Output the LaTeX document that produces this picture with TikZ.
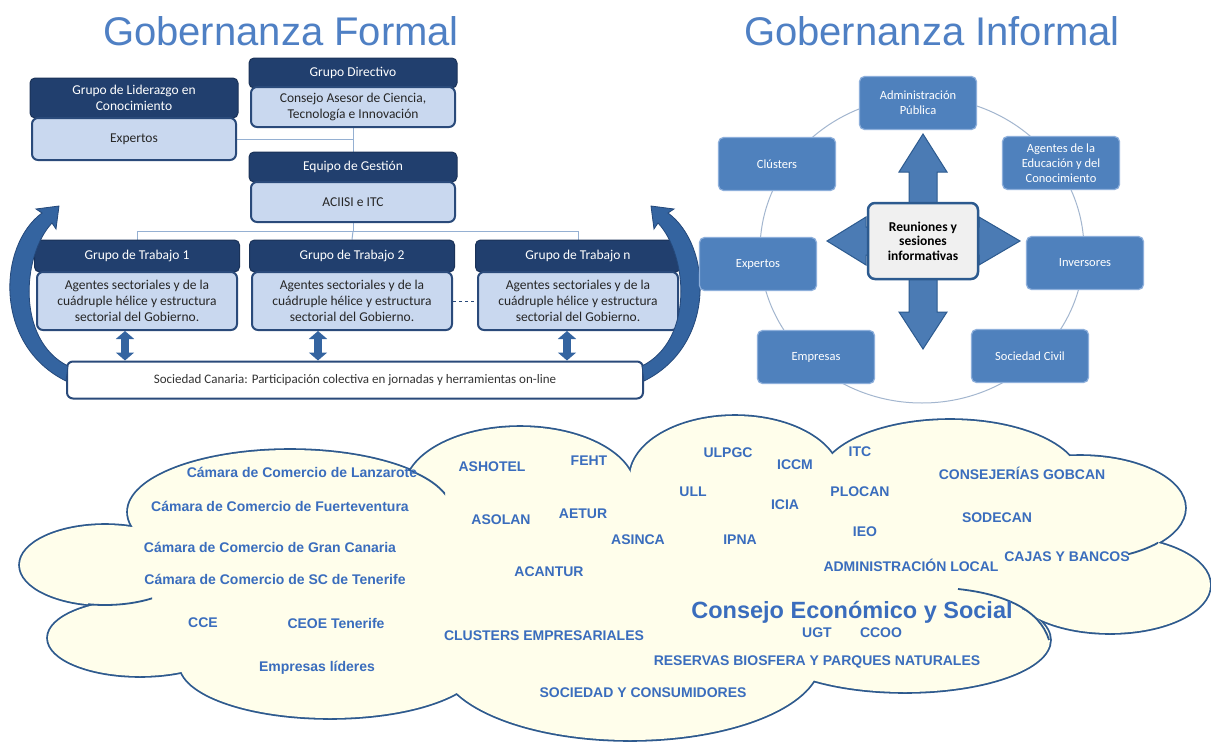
\documentclass[tikz,border=0pt]{standalone}
\usepackage{fontspec}
\setmainfont{Carlito}
\newfontfamily\arialfont{Liberation Sans}
\usetikzlibrary{positioning,arrows.meta,calc,backgrounds}
\definecolor{NavyHead}{HTML}{213F6E}
\definecolor{BodyFill}{HTML}{C9D8EF}
\definecolor{BodyEdge}{HTML}{2A4A7A}
\definecolor{LinkBlue}{HTML}{95B0D2}
\definecolor{ArrowBlue}{HTML}{3464A0}
\definecolor{ArrowEdge}{HTML}{24487A}
\definecolor{InfBlue}{HTML}{4F81BD}
\definecolor{InfEdge}{HTML}{8DAFDB}
\definecolor{CrossEdge}{HTML}{2C5A8F}
\definecolor{RingGray}{HTML}{A3B6CF}
\definecolor{CloudFill}{HTML}{FFFEEB}
\definecolor{CloudEdge}{HTML}{2E5A8E}
\definecolor{CloudText}{HTML}{3A6DBD}
\definecolor{TitleBlue}{HTML}{4F80C4}
\definecolor{GrayText}{HTML}{333333}
\tikzset{
  every node/.style = {font=\fontsize{13.5}{16}\selectfont},
  title/.style      = {font=\arialfont\fontsize{40}{44}\selectfont,
                       text=TitleBlue, inner sep=0pt},
  hdr/.style        = {rectangle, rounded corners=5pt, fill=NavyHead,
                       draw=NavyHead!80!black, line width=1pt, text=white,
                       minimum width=208pt, align=center, inner sep=2pt},
  bdy/.style        = {rectangle, rounded corners=6pt, fill=BodyFill,
                       draw=BodyEdge, line width=2pt, text=black!85,
                       minimum width=204pt, align=center, inner sep=2pt},
  socbox/.style     = {bdy, fill=white, text=GrayText,
                       font=\fontsize{13}{15}\selectfont},
  link/.style       = {draw=LinkBlue, line width=1pt},
  dblarrow/.style   = {<->, >={Triangle[width=18pt, length=8pt]},
                       line width=7.5pt, draw=ArrowBlue},
  sidearrow/.style  = {fill=ArrowBlue, draw=ArrowEdge, line width=0.8pt},
  ibox/.style       = {rectangle, rounded corners=5pt, fill=InfBlue,
                       draw=InfEdge, line width=1.2pt, text=white,
                       minimum width=117pt, minimum height=53pt,
                       align=center, inner sep=2pt,
                       font=\fontsize{12.5}{15}\selectfont},
  hubbox/.style     = {ibox, fill=black!6, draw=CrossEdge, line width=2.5pt,
                       rounded corners=7pt, text=black,
                       minimum width=110pt, minimum height=76pt,
                       font=\bfseries\fontsize{13.5}{14.5}\selectfont},
  cross/.style      = {fill=InfBlue!95!black, draw=CrossEdge, line width=1pt},
  ring/.style       = {draw=RingGray, line width=1pt},
  cloudline/.style  = {draw=CloudEdge, line width=3.6pt},
  cloudinner/.style = {draw=CloudEdge, line width=1.8pt},
  cloudfill/.style  = {fill=CloudFill},
  org/.style        = {font=\arialfont\bfseries\fontsize{14}{16}\selectfont,
                       text=CloudText, inner sep=1pt},
  orgbig/.style     = {org, font=\arialfont\bfseries\fontsize{23.5}{26}\selectfont},
}
% cloud lobes: centre x / centre y / x radius / y radius
\def\Lobes{105/565/85/40, 290/512/162/62, 520/490/115/63, 735/478/105/62,
  950/480/130/60, 1080/508/105/52, 1110/585/100/48, 905/640/145/52,
  630/660/190/80, 330/664/150/54, 140/638/92/38}

\begin{document}
\begin{tikzpicture}[x=1pt, y=-1pt]
\useasboundingbox (0,0) rectangle (1211,742);
\begin{scope}[on background layer]
  \fill[white] (0,0) rectangle (1211,742);
\end{scope}

% =========================================================================
% Titles
% =========================================================================
\node[title, anchor=base] (tForm) at (281,45) {Gobernanza Formal};
\node[title, anchor=base] (tInf)  at (932,45) {Gobernanza Informal};

% =========================================================================
% Formal governance
% =========================================================================
\node[hdr, minimum height=30pt] (dirH) at (353,73)  {Grupo Directivo};
\node[bdy, minimum height=40pt] (dirB) at (353,107)
  {Consejo Asesor de Ciencia,\\Tecnología e Innovación};

\node[hdr, minimum height=40pt] (lidH) at (134,98)
  {Grupo de Liderazgo en\\Conocimiento};
\node[bdy, minimum height=42pt] (lidB) at (134,139) {Expertos};

\node[hdr, minimum height=30pt] (gesH) at (353,167) {Equipo de Gestión};
\node[bdy, minimum height=40pt] (gesB) at (353,202) {ACIISI e ITC};

% working groups
\foreach \n/\x in {1/137, 2/352, n/578} {
  \node[hdr, minimum width=205pt, minimum height=32pt] (gtH\n) at (\x,256)
    {Grupo de Trabajo \n};
  \node[bdy, minimum width=200pt, minimum height=58pt] (gtB\n) at (\x,301)
    {Agentes sectoriales y de la\\cuádruple hélice y estructura\\sectorial del Gobierno.};
}

\node[socbox, minimum width=576pt, minimum height=37pt] (socB) at (355,380)
  {Sociedad Canaria: Participación colectiva en jornadas y herramientas on-line};

% --- connectors (behind the boxes) ----------------------------------------
\begin{scope}[on background layer]
  \draw[link] (lidB.east) -- (lidB.east -| dirB.south);
  \draw[link] (dirB.south) -- (gesH.north);
  \coordinate (bus) at ($(gesB.south)!0.5!(gesB.south |- gtH2.north)$);
  \draw[link] (gesB.south) -- (bus);
  \draw[link] (gtH1.north) |- (bus) -| (gtHn.north);
  \draw[link] (bus) -- (gtH2.north);
\end{scope}
\draw[link, dashed, draw=BodyEdge] (gtB2.east) -- (gtBn.west);

% --- two-way arrows to the society box -----------------------------------
\foreach \g/\dx in {gtB1/-12, gtB2/-34, gtBn/-11} {
  \coordinate (dtop) at ([xshift=\dx pt]\g.south);
  \draw[dblarrow] (dtop) -- (dtop |- socB.north);
}

% --- curved feedback arrows ----------------------------------------------
\filldraw[sidearrow] (68,366) .. controls (16,340) and (22,255) .. (52,223)
  -- (56,229) -- (59,206) -- (36,209) -- (42,213)
  .. controls (-2,245) and (-7,345) .. (66,381) -- cycle;
\begin{scope}[xshift=710pt, xscale=-1]
  \filldraw[sidearrow] (68,366) .. controls (16,340) and (22,255) .. (52,223)
    -- (56,229) -- (59,206) -- (36,209) -- (42,213)
    .. controls (-2,245) and (-7,345) .. (66,381) -- cycle;
\end{scope}

% =========================================================================
% Informal governance
% =========================================================================
\coordinate (hub) at (923,241);
\draw[ring] (922,250) ellipse [x radius=162, y radius=153];

\begin{scope}[shift={(hub)}]
  \filldraw[cross] (0,-107) -- (24,-69) -- (14,-69) -- (14,-14) -- (56,-14)
    -- (56,-24) -- (97,0) -- (56,24) -- (56,14) -- (14,14) -- (14,71)
    -- (24,71) -- (0,108) -- (-24,71) -- (-14,71) -- (-14,14) -- (-57,14)
    -- (-57,24) -- (-96,0) -- (-57,-24) -- (-57,-14) -- (-14,-14)
    -- (-14,-69) -- (-24,-69) -- cycle;
\end{scope}
\node[hubbox] (reu) at (hub) {Reuniones y\\sesiones\\informativas};

\node[ibox] (adm) at (918,103)  {Administración\\Pública};
\node[ibox] (age) at (1061,163) {Agentes de la\\Educación y del\\Conocimiento};
\node[ibox] (inv) at (1085,263) {Inversores};
\node[ibox] (civ) at (1030,356) {Sociedad Civil};
\node[ibox] (emp) at (816,357)  {Empresas};
\node[ibox] (exp) at (758,264)  {Expertos};
\node[ibox] (clu) at (777,164)  {Clústers};

% =========================================================================
% Cloud of agents
% =========================================================================
\foreach \cx/\cy/\rx/\ry in \Lobes
  \draw[cloudline] (\cx,\cy) ellipse [x radius=\rx, y radius=\ry];
\fill[cloudfill] (105,565) -- (290,512) -- (520,490) -- (735,478) -- (950,480)
  -- (1080,508) -- (1110,585) -- (905,640) -- (630,660) -- (330,664)
  -- (140,638) -- cycle;
\foreach \cx/\cy/\rx/\ry in \Lobes
  \fill[cloudfill] (\cx,\cy) ellipse [x radius=\rx, y radius=\ry];

% inner lobe arcs
\begin{scope}
  \clip (408,455) rectangle (445,500);
  \draw[cloudinner] (290,512) ellipse [x radius=162, y radius=62];
\end{scope}
\begin{scope}
  \clip (88,595) rectangle (152,615);
  \draw[cloudinner] (105,565) ellipse [x radius=85, y radius=40];
\end{scope}
\begin{scope}
  \clip (1128,525) rectangle (1158,565);
  \draw[cloudinner] (1080,508) ellipse [x radius=105, y radius=52];
\end{scope}
\draw[cloudinner] (958,589) .. controls (1005,594) and (1040,610) .. (1049,640);

% --- labels --------------------------------------------------------------
\node[org] (lanz)    at (302,472)  {Cámara de Comercio de Lanzarote};
\node[org] (fuer)    at (280,506)  {Cámara de Comercio de Fuerteventura};
\node[org] (gcan)    at (270,547)  {Cámara de Comercio de Gran Canaria};
\node[org] (tfe)     at (275,579)  {Cámara de Comercio de SC de Tenerife};
\node[org] (cce)     at (203,623)  {CCE};
\node[org] (ceoe)    at (336,623)  {CEOE Tenerife};
\node[org] (lider)   at (317,668)  {Empresas líderes};
\node[org] (ashotel) at (492,467)  {ASHOTEL};
\node[org] (feht)    at (589,461)  {FEHT};
\node[org] (asolan)  at (501,520)  {ASOLAN};
\node[org] (aetur)   at (583,514)  {AETUR};
\node[org] (asinca)  at (638,540)  {ASINCA};
\node[org] (acantur) at (549,572)  {ACANTUR};
\node[org] (clust)   at (544,636)  {CLUSTERS EMPRESARIALES};
\node[org] (socons)  at (643,693)  {SOCIEDAD Y CONSUMIDORES};
\node[org] (ulpgc)   at (728,453)  {ULPGC};
\node[org] (iccm)    at (795,465)  {ICCM};
\node[org] (itc)     at (860,452)  {ITC};
\node[org] (ull)     at (693,492)  {ULL};
\node[org] (icia)    at (785,505)  {ICIA};
\node[org] (plocan)  at (860,492)  {PLOCAN};
\node[org] (ieo)     at (865,532)  {IEO};
\node[org] (ipna)    at (740,540)  {IPNA};
\node[org] (adloc)   at (911,565)  {ADMINISTRACIÓN LOCAL};
\node[org] (gobcan)  at (1022,473) {CONSEJERÍAS GOBCAN};
\node[org] (sodecan) at (997,518)  {SODECAN};
\node[org] (cajas)   at (1067,557) {CAJAS Y BANCOS};
\node[orgbig] (ces)  at (852,612)  {Consejo Económico y Social};
\node[org] (ugt)     at (817,633)  {UGT};
\node[org] (ccoo)    at (881,633)  {CCOO};
\node[org] (reserv)  at (817,662)  {RESERVAS BIOSFERA Y PARQUES NATURALES};

\end{tikzpicture}
\end{document}
